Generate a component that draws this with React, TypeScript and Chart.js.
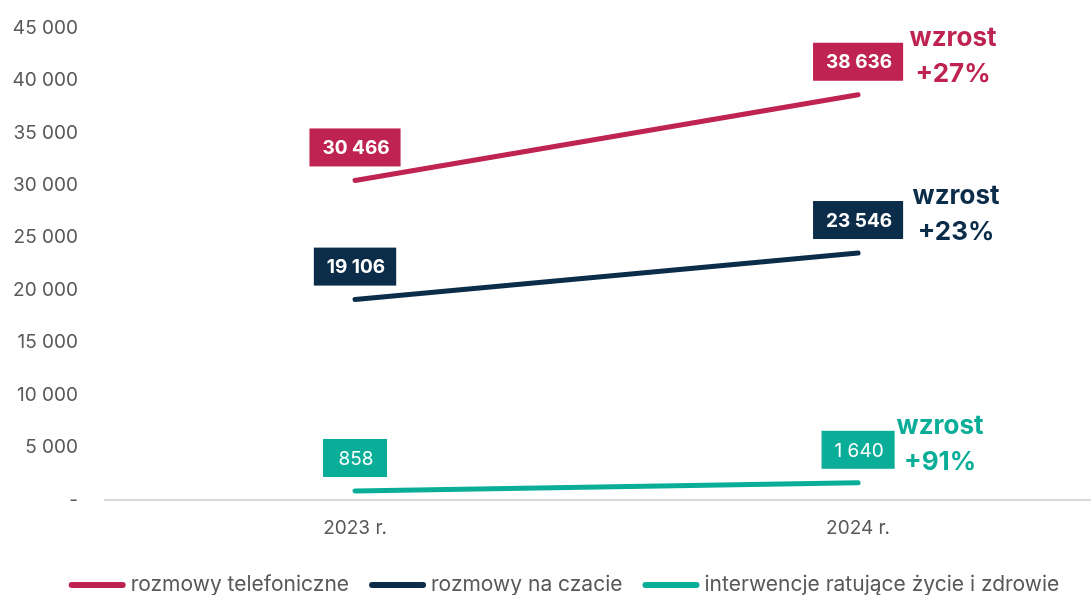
import React, { useEffect, useRef } from "react";
import { Chart, registerables } from "chart.js";
Chart.register(...registerables);

const years = ["2023 r.", "2024 r."];
const yearPositions = [0, 1];
const telefon = [30466, 38636];
const czat = [19106, 23546];
const interwencje = [858, 1640];
const seriesNames = [
  "rozmowy telefoniczne",
  "rozmowy na czacie",
  "interwencje ratujące życie i zdrowie",
];
const growthLabels = ["+27%", "+23%", "+91%"];
const growthWord = "wzrost";
const yMax = 45000;
const yStep = 5000;

const COLORS = ["#BE2351", "#0B2D4A", "#0AAE98"];
const LABEL_BOLD = [true, true, false];
const GROWTH_DX = [95, 98, 82];
const TEXT_GREY = "#595959";
const FONT = "Inter, 'Noto Sans', sans-serif";
const LEGEND_FONT = "Inter, 'Noto Sans', sans-serif";
const LEGEND_CENTER = 564;

const fmt = (n: number) => String(n).replace(/\B(?=(\d{3})+(?!\d))/g, " ");

const labelPlugin = {
  id: "valueLabels",
  afterDatasetsDraw(chart: any) {
    const ctx = chart.ctx;
    ctx.save();
    chart.data.datasets.forEach((ds: any, di: number) => {
      const meta = chart.getDatasetMeta(di);
      meta.data.forEach((pt: any, i: number) => {
        const text = fmt(ds.data[i].y);
        ctx.font = `${LABEL_BOLD[di] ? "bold " : ""}19px ${FONT}`;
        const w = Math.max(ctx.measureText(text).width + 24, 64);
        const h = 38;
        const cx = pt.x;
        const cy = pt.y - 33;
        ctx.fillStyle = ds.borderColor;
        ctx.fillRect(cx - w / 2, cy - h / 2, w, h);
        ctx.fillStyle = "#ffffff";
        ctx.textAlign = "center";
        ctx.textBaseline = "middle";
        ctx.fillText(text, cx + 1, cy + 1);
      });
      const last = meta.data[meta.data.length - 1];
      ctx.font = `bold 26px ${FONT}`;
      ctx.fillStyle = ds.borderColor;
      ctx.textAlign = "center";
      ctx.textBaseline = "middle";
      ctx.fillText(growthWord, last.x + GROWTH_DX[di], last.y - 57);
      ctx.fillText(growthLabels[di], last.x + GROWTH_DX[di], last.y - 21);
    });
    ctx.restore();
  },
};

const legendPlugin = {
  id: "customLegend",
  afterDraw(chart: any) {
    const ctx = chart.ctx;
    ctx.save();
    ctx.font = `21px ${LEGEND_FONT}`;
    const lineW = 57;
    const gapText = 5;
    const gapItem = 20;
    const widths = seriesNames.map((s) => ctx.measureText(s).width);
    const total =
      widths.reduce((a, b) => a + b, 0) +
      seriesNames.length * (lineW + gapText) +
      (seriesNames.length - 1) * gapItem;
    let x = LEGEND_CENTER - total / 2;
    const y = 585;
    seriesNames.forEach((s, i) => {
      ctx.strokeStyle = COLORS[i];
      ctx.lineWidth = 6;
      ctx.lineCap = "round";
      ctx.beginPath();
      ctx.moveTo(x + 3, y);
      ctx.lineTo(x + lineW - 3, y);
      ctx.stroke();
      ctx.fillStyle = TEXT_GREY;
      ctx.textAlign = "left";
      ctx.textBaseline = "middle";
      ctx.fillText(s, x + lineW + gapText, y);
      x += lineW + gapText + widths[i] + gapItem;
    });
    ctx.restore();
  },
};

export default function App() {
  const ref = useRef<HTMLCanvasElement>(null);
  useEffect(() => {
    document.body.style.margin = "0";
    const series = [telefon, czat, interwencje];
    const chart = new Chart(ref.current!, {
      type: "line",
      data: {
        datasets: series.map((arr, i) => ({
          label: seriesNames[i],
          data: arr.map((v, j) => ({ x: yearPositions[j], y: v })),
          borderColor: COLORS[i],
          backgroundColor: COLORS[i],
          borderWidth: 5,
          borderCapStyle: "round",
          pointRadius: 0,
          fill: false,
        })),
      },
      options: {
        responsive: false,
        animation: false,
        layout: { padding: { top: 28, bottom: 40, left: 0, right: 0 } },
        plugins: { legend: { display: false }, tooltip: { enabled: false } },
        scales: {
          x: {
            type: "linear",
            min: -0.497,
            max: 1.463,
            afterBuildTicks: (s: any) => {
              s.ticks = yearPositions.map((v) => ({ value: v }));
            },
            afterFit: (s: any) => {
              s.height = 55;
            },
            ticks: {
              callback: (v: any) => years[yearPositions.indexOf(Number(v))] ?? "",
              color: TEXT_GREY,
              font: { family: FONT, size: 19 },
              padding: 17,
              maxRotation: 0,
            },
            grid: { display: false, drawTicks: false },
            border: { display: true, color: "#D9D9D9", width: 2 },
          },
          y: {
            min: 0,
            max: yMax,
            afterFit: (s: any) => {
              s.width = 105;
              s.paddingTop = 0;
              s.paddingBottom = 0;
            },
            ticks: {
              stepSize: yStep,
              callback: (v: any) => (Number(v) === 0 ? "-" : fmt(Number(v))),
              color: TEXT_GREY,
              font: { family: FONT, size: 19 },
              padding: 27,
            },
            grid: { display: false, drawTicks: false },
            border: { display: false },
          },
        },
      },
      plugins: [labelPlugin, legendPlugin],
    } as any);
    return () => chart.destroy();
  }, []);
  return (
    <div style={{ width: 1091, height: 595, background: "#fff" }}>
      <canvas ref={ref} width={1091} height={595} />
    </div>
  );
}
